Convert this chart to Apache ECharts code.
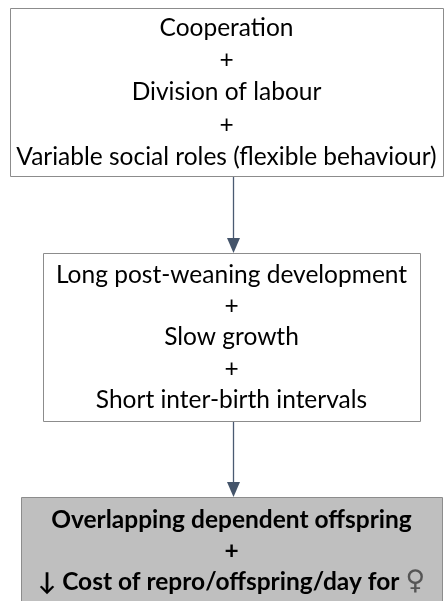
<!DOCTYPE html>
<html>
<head>
<meta charset="utf-8">
<script src="https://cdn.jsdelivr.net/npm/echarts@6/dist/echarts.min.js"></script>
<style>
  html, body { margin: 0; padding: 0; background: #fff; }
  #chart { width: 446px; height: 601px; }
</style>
</head>
<body>
<div id="chart"></div>
<script>
// box texts, top to bottom
const box1Lines = ['Cooperation', '+', 'Division of labour', '+', 'Variable social roles (flexible behaviour)']
const box2Lines = ['Long post-weaning development', '+', 'Slow growth', '+', 'Short inter-birth intervals']
const box3Lines = ['Overlapping dependent offspring', '+', '\u2193 Cost of repro/offspring/day for \u2640']
const boxLines = [box1Lines, box2Lines, box3Lines]

// layout (diagram units = pixels)
const boxLeft = [10, 43, 21]
const boxRight = [443, 420, 442]
const boxTop = [8, 253, 497]
const boxBottom = [176, 421, 625]
const firstLineY = [28, 275, 520]
const lineGap = [32.2, 31.2, 31]
const arrowX = 233

const boxFill = ['#ffffff', '#ffffff', '#bfbfbf']
const boxWeight = ['normal', 'normal', 'bold']

const chart = echarts.init(document.getElementById('chart'))

const renderBox = (params, api) => {
  const i = api.value(0)
  const tl = api.coord([boxLeft[i], boxTop[i]])
  const br = api.coord([boxRight[i], boxBottom[i]])
  const children = [{
    type: 'rect',
    shape: { x: tl[0] + 0.5, y: tl[1] + 0.5, width: br[0] - tl[0], height: br[1] - tl[1] },
    style: { fill: boxFill[i], stroke: '#8c8c8c', lineWidth: 1 }
  }]
  const cx = (boxLeft[i] + boxRight[i]) / 2
  boxLines[i].forEach((txt, k) => {
    const p = api.coord([cx, firstLineY[i] + k * lineGap[i]])
    children.push({
      type: 'text',
      style: {
        text: txt.replace('\u2640', '{f|\u2640}'), x: p[0], y: p[1], align: 'center', verticalAlign: 'middle',
        fontFamily: 'Lato', fontSize: 24.5, fontWeight: boxWeight[i], fill: '#000',
        rich: { f: { fontFamily: 'DejaVu Sans', fontSize: 27, fontWeight: 'normal', fill: '#555' } }
      }
    })
  })
  return { type: 'group', children }
}

const renderArrow = (params, api) => {
  const i = api.value(0)
  const a = api.coord([arrowX, boxBottom[i]])
  const b = api.coord([arrowX, boxTop[i + 1]])
  return {
    type: 'group',
    children: [
      { type: 'line', shape: { x1: a[0] + 0.5, y1: a[1], x2: b[0] + 0.5, y2: b[1] - 12 }, style: { stroke: '#4a5a72', lineWidth: 1.3 } },
      { type: 'polygon', shape: { points: [[b[0] - 6, b[1] - 15], [b[0] + 7, b[1] - 15], [b[0] + 0.5, b[1]]] }, style: { fill: '#44546a' } }
    ]
  }
}

chart.setOption({
  animation: false,
  grid: { left: 0, right: 0, top: 0, bottom: 0 },
  xAxis: { type: 'value', min: 0, max: 446, show: false },
  yAxis: { type: 'value', min: 0, max: 601, inverse: true, show: false },
  series: [
    { type: 'custom', renderItem: renderArrow, data: [[0], [1]], silent: true },
    { type: 'custom', renderItem: renderBox, data: [[0], [1], [2]], silent: true }
  ]
})
</script>
</body>
</html>
